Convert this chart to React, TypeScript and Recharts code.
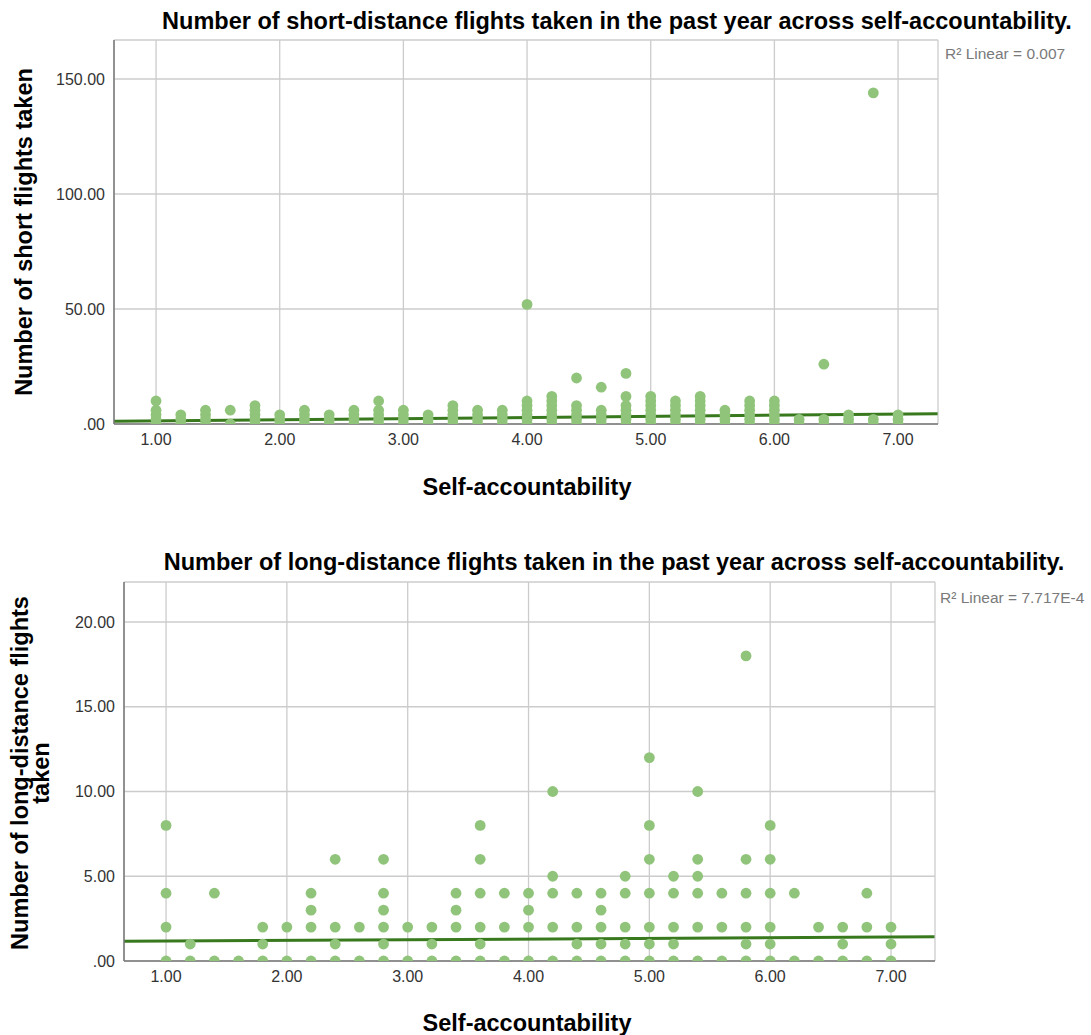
import React from 'react';
import { ScatterChart, Scatter, XAxis, YAxis, CartesianGrid, ReferenceLine } from 'recharts';

const scoreLevels = [1.0, 1.2, 1.4, 1.6, 1.8, 2.0, 2.2, 2.4, 2.6, 2.8, 3.0, 3.2, 3.4, 3.6, 3.8, 4.0, 4.2, 4.4, 4.6, 4.8, 5.0, 5.2, 5.4, 5.6, 5.8, 6.0, 6.2, 6.4, 6.6, 6.8, 7.0];

const shortFlights: number[][] = [
  [0, 2, 4, 6, 10],
  [0, 2, 4],
  [0, 2, 4, 6],
  [0, 6],
  [0, 2, 4, 6, 8],
  [0, 2, 4],
  [0, 2, 4, 6],
  [0, 2, 4],
  [0, 2, 4, 6],
  [0, 2, 4, 6, 10],
  [0, 2, 4, 6],
  [0, 2, 4],
  [0, 2, 4, 6, 8],
  [0, 2, 4, 6],
  [0, 2, 4, 6],
  [0, 2, 4, 6, 8, 10, 52],
  [0, 2, 4, 6, 8, 10, 12],
  [0, 2, 4, 6, 8, 20],
  [0, 2, 4, 6, 16],
  [0, 2, 4, 6, 8, 12, 22],
  [0, 2, 4, 6, 8, 10, 12],
  [0, 2, 4, 6, 8, 10],
  [0, 2, 4, 6, 8, 10, 12],
  [0, 2, 4, 6],
  [0, 2, 4, 6, 8, 10],
  [0, 2, 4, 6, 8, 10],
  [0, 2],
  [0, 2, 26],
  [0, 2, 4],
  [0, 2, 144],
  [0, 2, 4],
];

const longFlights: number[][] = [
  [0, 2, 4, 8],
  [0, 1],
  [0, 4],
  [0],
  [0, 1, 2],
  [0, 2],
  [0, 2, 3, 4],
  [0, 1, 2, 6],
  [0, 2],
  [0, 1, 2, 3, 4, 6],
  [0, 2],
  [0, 1, 2],
  [0, 2, 3, 4],
  [0, 1, 2, 4, 6, 8],
  [0, 2, 4],
  [0, 2, 3, 4],
  [0, 2, 4, 5, 10],
  [0, 1, 2, 4],
  [0, 1, 2, 3, 4],
  [0, 1, 2, 4, 5],
  [0, 1, 2, 4, 6, 8, 12],
  [0, 1, 2, 4, 5],
  [0, 2, 4, 5, 6, 10],
  [0, 2, 4],
  [0, 1, 2, 4, 6, 18],
  [0, 1, 2, 4, 6, 8],
  [0, 4],
  [0, 2],
  [0, 1, 2],
  [0, 2, 4],
  [0, 1, 2],
];

const shortFit = [{ x: 0.66, y: 1.17 }, { x: 7.32, y: 4.5 }];
const longFit = [{ x: 0.652, y: 1.16 }, { x: 7.36, y: 1.43 }];

const xTicks = [1, 2, 3, 4, 5, 6, 7];
const shortYTicks = [0, 50, 100, 150];
const longYTicks = [0, 5, 10, 15, 20];

const shortDomainX: [number, number] = [0.66, 7.323];
const shortDomainY: [number, number] = [0, 166.96];
const longDomainX: [number, number] = [0.652, 7.364];
const longDomainY: [number, number] = [0, 22.36];

const FONT = "'Liberation Sans', Arial, sans-serif";
const DOT = '#90c47b';
const FIT = '#38791e';
const GRID = '#cccccc';
const AXIS = '#777777';

const toPoints = (levels: number[], values: number[][]) =>
  levels.flatMap((x, i) => values[i].map((y) => ({ x, y })));

const shortPoints = toPoints(scoreLevels, shortFlights);
const longPoints = toPoints(scoreLevels, longFlights);

const fmt = (v: number) => (v === 0 ? '.00' : v.toFixed(2));

const dotShape = (props: any) => <circle cx={props.cx} cy={props.cy} r={5.4} fill={DOT} />;

const tickStyle = { fontSize: 16, fill: '#333333', fontFamily: FONT };

const Text = ({ x, y, children, size = 23.5, weight = 700, color = '#000', rotate = 0, align = 'center', lineHeight }: any) => (
  <div
    style={{
      position: 'absolute',
      left: x,
      top: y,
      transform: `translate(${align === 'left' ? '0' : '-50%'}, -50%) rotate(${rotate}deg)`,
      fontSize: size,
      fontWeight: weight,
      color,
      fontFamily: FONT,
      whiteSpace: 'pre',
      textAlign: 'center',
      lineHeight: lineHeight ? `${lineHeight}px` : 1,
    }}
  >
    {children}
  </div>
);

const Plot = ({ points, fit, dx, dy, yTicks, height, marginTop, axisW, axisH, marginRight }: any) => (
  <ScatterChart
    width={1091}
    height={height}
    margin={{ top: marginTop, right: marginRight, left: 0, bottom: 0 }}
  >
    <CartesianGrid stroke={GRID} strokeWidth={1.3} />
    <XAxis
      type="number"
      dataKey="x"
      domain={dx}
      ticks={xTicks}
      allowDataOverflow
      tickLine={false}
      axisLine={{ stroke: AXIS, strokeWidth: 1.5 }}
      tick={tickStyle}
      tickFormatter={fmt}
      tickSize={6}
      tickMargin={4}
      height={axisH}
      interval={0}
    />
    <YAxis
      type="number"
      dataKey="y"
      domain={dy}
      ticks={yTicks}
      allowDataOverflow
      tickLine={false}
      axisLine={{ stroke: AXIS, strokeWidth: 1.5 }}
      tick={tickStyle}
      tickFormatter={fmt}
      tickSize={6}
      tickMargin={3}
      width={axisW}
      interval={0}
    />
    <Scatter data={points} shape={dotShape} isAnimationActive={false} />
    <ReferenceLine segment={fit} stroke={FIT} strokeWidth={3} ifOverflow="visible" />
  </ScatterChart>
);

export default function App() {
  return (
    <div style={{ position: 'absolute', left: 0, top: 0, width: 1091, height: 1035, background: '#fff', overflow: 'hidden' }}>
      <div style={{ position: 'absolute', left: 0, top: 0 }}>
        <Plot
          points={shortPoints}
          fit={shortFit}
          dx={shortDomainX}
          dy={shortDomainY}
          yTicks={shortYTicks}
          height={520}
          marginTop={40}
          axisW={114}
          axisH={96}
          marginRight={153}
        />
      </div>
      <div style={{ position: 'absolute', left: 0, top: 540 }}>
        <Plot
          points={longPoints}
          fit={longFit}
          dx={longDomainX}
          dy={longDomainY}
          yTicks={longYTicks}
          height={495}
          marginTop={42}
          axisW={124}
          axisH={74}
          marginRight={156}
        />
      </div>
      <Text x={617} y={22}>Number of short-distance flights taken in the past year across self-accountability.</Text>
      <Text x={25} y={232} rotate={-90}>Number of short flights taken</Text>
      <Text x={527} y={488}>Self-accountability</Text>
      <Text x={945} y={54} size={15.5} weight={400} color="#7a7a7a" align="left">R² Linear = 0.007</Text>

      <Text x={614} y={563}>Number of long-distance flights taken in the past year across self-accountability.</Text>
      <Text x={30.5} y={773} rotate={-90} lineHeight={21}>{'Number of long-distance flights\ntaken'}</Text>
      <Text x={527} y={1024}>Self-accountability</Text>
      <Text x={940} y={598} size={15.5} weight={400} color="#7a7a7a" align="left">R² Linear = 7.717E-4</Text>
    </div>
  );
}
